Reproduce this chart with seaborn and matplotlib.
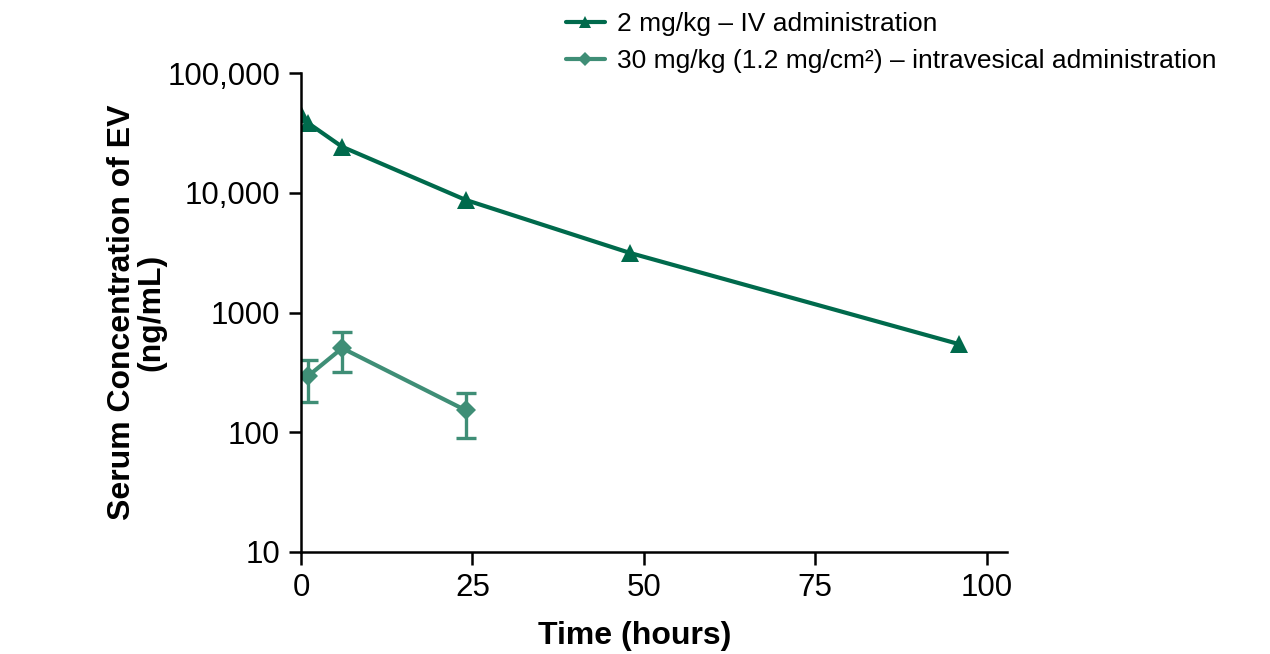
import matplotlib

matplotlib.use("Agg")
import matplotlib.pyplot as plt
import numpy as np
import pandas as pd
import seaborn as sns

# --- data ---
iv_label = "2 mg/kg \u2013 IV administration"
ives_label = "30 mg/kg (1.2 mg/cm\u00b2) \u2013 intravesical administration"

iv_time = [0, 1, 6, 24, 48, 96]
iv_conc = [46000, 38500, 24300, 8750, 3150, 545]

ives_time = [1, 6, 24]
ives_conc = [294, 505, 153]
ives_upper = [400, 686, 214]
ives_lower = [180, 318, 90]

y_ticks = [10, 100, 1000, 10000, 100000]
y_ticklabels = ["10", "100", "1000", "10,000", "100,000"]
x_ticks = [0, 25, 50, 75, 100]

IV_COLOR = "#006a4c"
IVES_COLOR = "#3f8e76"
MARKER_SIZE = {iv_label: 13.5, ives_label: 10.5}

sns.set_style("ticks")
plt.rcParams["font.family"] = ["Liberation Sans", "DejaVu Sans"]
plt.rcParams["text.color"] = "black"
plt.rcParams["axes.labelcolor"] = "black"

df = pd.concat([
    pd.DataFrame({"time": iv_time, "conc": iv_conc, "group": iv_label}),
    pd.DataFrame({"time": ives_time, "conc": ives_conc, "group": ives_label}),
])

fig = plt.figure(figsize=(12.7, 6.54), dpi=100)
ax = fig.add_axes([0.237, 0.156, 0.556, 0.732])

sns.lineplot(
    data=df, x="time", y="conc", hue="group", style="group",
    palette={iv_label: IV_COLOR, ives_label: IVES_COLOR},
    markers={iv_label: "^", ives_label: "D"},
    dashes=False, linewidth=3, markersize=12, markeredgewidth=0,
    ax=ax, legend=True, estimator=None,
)
# triangles are drawn larger than the diamonds in the original
for line, label in zip(ax.lines[:2], [iv_label, ives_label]):
    line.set_markersize(MARKER_SIZE[label])

# error bars for the intravesical series
conc = np.array(ives_conc)
yerr = [conc - np.array(ives_lower), np.array(ives_upper) - conc]
ax.errorbar(ives_time, ives_conc, yerr=yerr, fmt="none", ecolor=IVES_COLOR,
            elinewidth=2.4, capsize=7, capthick=2.4, zorder=1)

ax.set_yscale("log")
ax.set_ylim(10, 100000)
ax.set_yticks(y_ticks)
ax.set_yticklabels(y_ticklabels)
ax.minorticks_off()
ax.set_xlim(0, 103)
ax.set_xticks(x_ticks)

for side in ("top", "right"):
    ax.spines[side].set_visible(False)
for side in ("left", "bottom"):
    ax.spines[side].set_linewidth(1.8)
    ax.spines[side].set_color("black")
ax.tick_params(axis="both", length=9, width=1.8, labelsize=22.5,
               colors="black", pad=6)

ax.set_xlabel("Time (hours)", fontsize=23, fontweight="bold")
ax.xaxis.set_label_coords(0.472, -0.145)
ax.set_ylabel("Serum Concentration of EV\n(ng/mL)", fontsize=23,
              fontweight="bold", linespacing=1.0)
ax.yaxis.set_label_coords(-0.19, 0.5)

handles, labels = ax.get_legend_handles_labels()
ax.get_legend().remove()
for h, label in zip(handles, labels):
    h.set_markersize(MARKER_SIZE[label] * 0.65)
fig.legend(handles, labels, loc="upper left", bbox_to_anchor=(0.437, 0.998),
           frameon=False, fontsize=19, handlelength=1.5, handletextpad=0.45,
           labelspacing=0.5, borderaxespad=0)

fig.savefig("out.png", dpi=100)
